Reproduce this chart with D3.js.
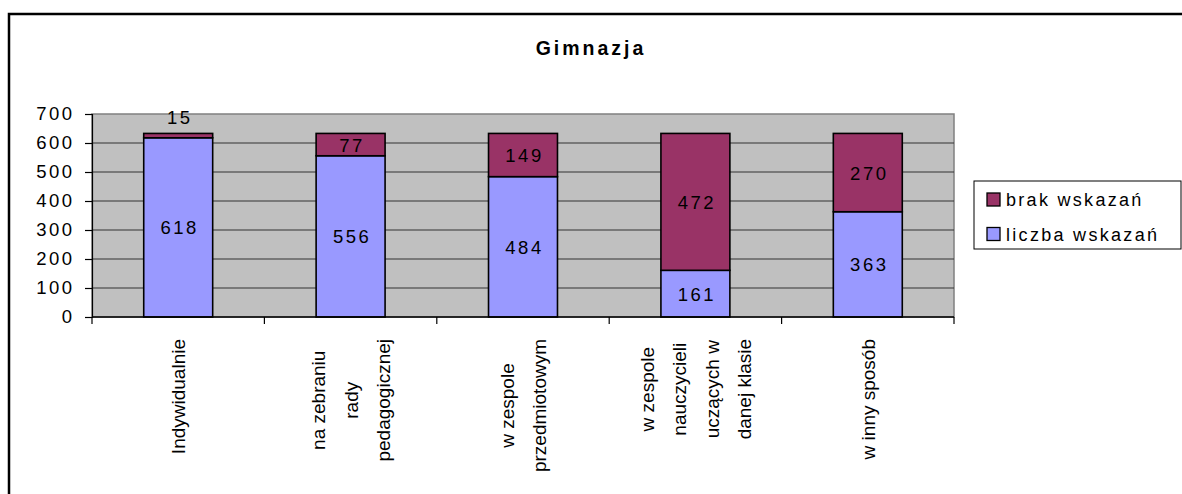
<!DOCTYPE html>
<html><head><meta charset="utf-8">
<script src="https://cdn.jsdelivr.net/npm/d3@7"></script>
<style>
html,body{margin:0;padding:0;background:#fff;}
svg{display:block;font-family:Arial,"Liberation Sans",sans-serif;}
</style></head>
<body><svg id="c" width="1182" height="494"></svg>
<script>
const categories = ["Indywidualnie", "na zebraniu rady pedagogicznej", "w zespole przedmiotowym", "w zespole nauczycieli uczących w danej klasie", "w inny sposób"];
const categoryLines = [["Indywidualnie"], ["na zebraniu", "rady", "pedagogicznej"], ["w zespole", "przedmiotowym"], ["w zespole", "nauczycieli", "uczących w", "danej klasie"], ["w inny sposób"]];
const liczbaWskazan = [618, 556, 484, 161, 363];
const brakWskazan = [15, 77, 149, 472, 270];
const seriesNames = ["liczba wskazań", "brak wskazań"];
const seriesColors = ["#9999FF", "#993366"];
const yTicks = [0, 100, 200, 300, 400, 500, 600, 700];
const title = "Gimnazja";

const svg = d3.select("#c");
const L = 92, R = 954, T = 114, B = 317;

// outer border
svg.append("rect").attr("x", 9).attr("y", 14).attr("width", 1250).attr("height", 600)
  .attr("fill", "none").attr("stroke", "#000").attr("stroke-width", 2.5);

svg.append("text").attr("x", 591).attr("y", 55).attr("text-anchor", "middle")
  .attr("font-size", 19.5).attr("font-weight", "bold").attr("letter-spacing", 3)
  .text(title);

const x = d3.scaleBand().domain(categories).range([L, R]).padding(0);
const y = d3.scaleLinear().domain([0, 700]).range([B, T]);

// plot background
svg.append("rect").attr("x", L).attr("y", T).attr("width", R - L).attr("height", B - T)
  .attr("fill", "#C0C0C0").attr("stroke", "#808080").attr("stroke-width", 1.5);

// gridlines
svg.append("g").selectAll("line").data(yTicks.filter(d => d > 0 && d < 700)).join("line")
  .attr("x1", L).attr("x2", R).attr("y1", d => y(d)).attr("y2", d => y(d))
  .attr("stroke", "#333").attr("stroke-width", 1);

// stacked data
const rows = categories.map((c, i) => ({cat: c, "liczba wskazań": liczbaWskazan[i], "brak wskazań": brakWskazan[i]}));
const stack = d3.stack().keys(seriesNames)(rows);
const bw = x.bandwidth() * 0.4;

stack.forEach((s, si) => {
  svg.append("g").selectAll("rect").data(s).join("rect")
    .attr("x", d => x(d.data.cat) + (x.bandwidth() - bw) / 2)
    .attr("y", d => y(d[1]))
    .attr("width", bw)
    .attr("height", d => y(d[0]) - y(d[1]))
    .attr("fill", seriesColors[si]).attr("stroke", "#000").attr("stroke-width", 1.6);
});

stack.forEach((s, si) => {
  svg.append("g").selectAll("text").data(s).join("text")
    .attr("x", d => x(d.data.cat) + x.bandwidth() / 2 + 1.5)
    .attr("y", d => {
      const h = y(d[0]) - y(d[1]);
      if (h < 20) return y(d[1]) - 9;
      return (y(d[0]) + y(d[1])) / 2 + 7;
    })
    .attr("text-anchor", "middle").attr("font-size", 18.5).attr("letter-spacing", 2.5)
    .attr("fill", "#000")
    .text(d => d[1] - d[0]);
});

// y axis
const yAxis = d3.axisLeft(y).tickValues(yTicks).tickSize(7).tickPadding(13);
const ya = svg.append("g").attr("transform", `translate(${L},0)`).call(yAxis);
ya.select(".domain").attr("stroke", "#000").attr("stroke-width", 1.2);
ya.selectAll(".tick line").attr("stroke", "#000").attr("stroke-width", 1.2);
ya.selectAll(".tick text").attr("font-size", 18.5).attr("letter-spacing", 2.5)
  .attr("font-family", "Arial, 'Liberation Sans', sans-serif").attr("fill", "#000")
  .attr("dx", 2.5);

// x axis
const xa = svg.append("g").attr("transform", `translate(0,${B})`);
xa.append("line").attr("x1", L).attr("x2", R).attr("stroke", "#000").attr("stroke-width", 1.5);
const bounds = categories.map(c => x(c)).concat([R]);
xa.selectAll("line.t").data(bounds).join("line").attr("class", "t")
  .attr("x1", d => d).attr("x2", d => d).attr("y1", 0).attr("y2", 7)
  .attr("stroke", "#000").attr("stroke-width", 1.2);

// x labels
categoryLines.forEach((lines, i) => {
  const cx = x(categories[i]) + x.bandwidth() / 2;
  const g = svg.append("g");
  const texts = lines.map((ln, j) => g.append("text")
    .attr("font-size", 19).attr("text-anchor", "middle").attr("fill", "#000")
    .text(ln));
  const maxLen = d3.max(texts, t => t.node().getComputedTextLength());
  const cy = 339 + maxLen / 2;
  texts.forEach((t, j) => {
    const lx = cx + (j - (lines.length - 1) / 2) * 32.5 + 7;
    t.attr("transform", `translate(${lx},${cy}) rotate(-90)`);
  });
});

// legend
svg.append("rect").attr("x", 974).attr("y", 181).attr("width", 207).attr("height", 68)
  .attr("fill", "#fff").attr("stroke", "#000").attr("stroke-width", 1);
const legendItems = [{name: "brak wskazań", color: seriesColors[1]}, {name: "liczba wskazań", color: seriesColors[0]}];
legendItems.forEach((it, i) => {
  const yy = 193 + i * 34.5;
  svg.append("rect").attr("x", 987).attr("y", yy).attr("width", 13).attr("height", 13)
    .attr("fill", it.color).attr("stroke", "#000").attr("stroke-width", 1.3);
  svg.append("text").attr("x", 1006).attr("y", yy + 13).attr("font-size", 18)
    .attr("letter-spacing", 2.3).attr("fill", "#000").text(it.name);
});
</script></body></html>
